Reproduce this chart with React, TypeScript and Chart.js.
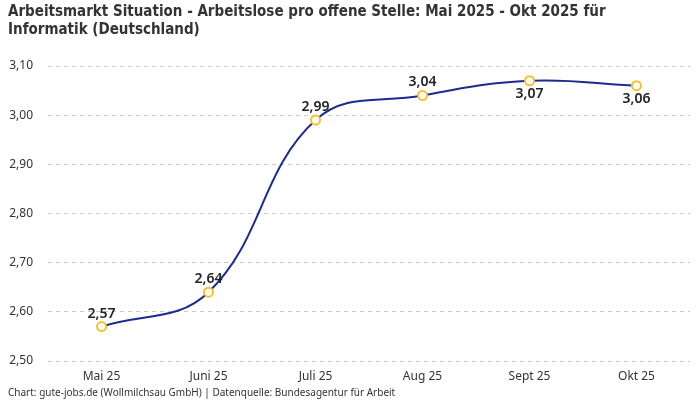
import { useEffect, useRef } from 'react';
import { Chart, registerables } from 'chart.js';

Chart.register(...registerables);

const months = ['Mai 25', 'Juni 25', 'Juli 25', 'Aug 25', 'Sept 25', 'Okt 25'];
const ratio = [2.57, 2.64, 2.99, 3.04, 3.07, 3.06];
const labelBelow = [false, false, false, false, true, true];

const titleLines = [
  'Arbeitsmarkt Situation - Arbeitslose pro offene Stelle: Mai 2025 - Okt 2025 für',
  'Informatik (Deutschland)',
];
const sourceNote = 'Chart: gute-jobs.de (Wollmilchsau GmbH) | Datenquelle: Bundesagentur für Arbeit';

const fmt = (v: number) => v.toFixed(2).replace('.', ',');

const valueLabels = {
  id: 'valueLabels',
  afterDatasetsDraw(chart: Chart) {
    const { ctx } = chart;
    const meta = chart.getDatasetMeta(0);
    ctx.save();
    ctx.font = '600 14px "Noto Sans", sans-serif';
    ctx.fillStyle = '#222';
    ctx.textAlign = 'center';
    meta.data.forEach((pt, i) => {
      const below = labelBelow[i];
      ctx.textBaseline = below ? 'top' : 'bottom';
      ctx.fillText(fmt(ratio[i]), pt.x, below ? pt.y + 6 : pt.y - 6);
    });
    ctx.restore();
  },
};

export default function App() {
  const canvasRef = useRef<HTMLCanvasElement>(null);

  useEffect(() => {
    if (!canvasRef.current) return;
    const chart = new Chart(canvasRef.current, {
      type: 'line',
      data: {
        labels: months,
        datasets: [
          {
            data: ratio,
            borderColor: '#1c2b8f',
            borderWidth: 2,
            tension: 0.4,
            pointRadius: 4.5,
            pointBorderWidth: 2,
            pointBackgroundColor: '#ffffff',
            pointBorderColor: '#f6c22b',
          },
        ],
      },
      options: {
        animation: false,
        responsive: false,
        layout: { padding: { left: 8, right: 10, top: 0, bottom: 0 } },
        plugins: {
          legend: { display: false },
          tooltip: { enabled: false },
          title: {
            display: true,
            text: titleLines,
            align: 'start',
            color: '#333',
            font: { family: '"Liberation Sans Narrow", "DejaVu Sans Condensed", sans-serif', size: 15, weight: 'bold', lineHeight: 1.2 },
            padding: { top: 3, bottom: 27 },
          },
          subtitle: {
            display: true,
            text: sourceNote,
            position: 'bottom',
            align: 'start',
            color: '#333',
            font: { family: '"Noto Sans", sans-serif', size: 10 },
            padding: { top: 3, bottom: 1 },
          },
        },
        scales: {
          x: {
            offset: true,
            afterFit: (s) => { s.height = 23; },
            grid: { display: false, drawTicks: false, tickLength: 0 },
            border: { display: false },
            ticks: { color: '#333', font: { family: '"Noto Sans", sans-serif', size: 12 }, padding: 8 },
          },
          y: {
            min: 2.5,
            max: 3.1,
            afterFit: (s) => { s.width = 40; },
            grid: { color: '#cccccc', tickLength: 0 },
            border: { display: false, dash: [4, 4] },
            ticks: {
              stepSize: 0.1,
              color: '#333',
              padding: 15,
              font: { family: '"Noto Sans", sans-serif', size: 12 },
              callback: (v) => fmt(Number(v)),
            },
          },
        },
      },
      plugins: [valueLabels],
    });
    return () => chart.destroy();
  }, []);

  return (
    <div style={{ position: 'absolute', left: 0, top: 0, width: 700, height: 400, background: '#fff' }}>
      <canvas ref={canvasRef} width={700} height={400} style={{ display: 'block' }} />
    </div>
  );
}
